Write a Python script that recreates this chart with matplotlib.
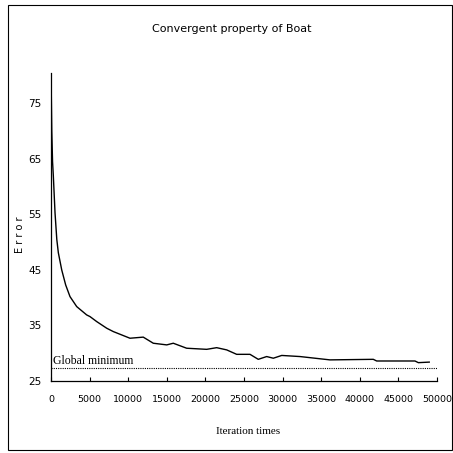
from matplotlib import pyplot as plt
from matplotlib.patches import Rectangle

# iteration / error
iters = [0, 100, 200, 300, 520, 750, 950, 1390, 1900, 2460, 3330, 4620, 5050,
         5920, 7220, 8070, 10230, 11950, 13250, 14990, 15840, 17570, 20170,
         21460, 22760, 24050, 25780, 26850, 27940, 28800, 29890, 32260,
         34840, 36140, 41750, 42190, 47150, 47590, 49000]
error = [80.5, 70.0, 64.5, 62.0, 55.3, 50.5, 48.1, 45.0, 42.3, 40.2, 38.4, 36.9,
         36.6, 35.7, 34.5, 33.9, 32.7, 32.9, 31.8, 31.5, 31.8, 30.9, 30.7,
         31.0, 30.6, 29.8, 29.8, 28.9, 29.4, 29.1, 29.6, 29.4,
         29.0, 28.8, 28.9, 28.6, 28.6, 28.3, 28.4]
global_min = 27.3
yticks = [25, 35, 45, 55, 65, 75]
xticks = list(range(0, 50001, 5000))

narrow = 'DejaVu Sans'

fig = plt.figure(figsize=(4.53, 4.53), dpi=100)
ax = fig.add_axes([0.1126, 0.159, 0.852, 0.68])

ax.plot(iters, error, color='black', lw=1.0)
ax.plot([0, 50000], [global_min, global_min], color='black', lw=0.8, ls=(0, (1, 1)))
ax.text(300, global_min + 0.3, 'Global minimum', family='Liberation Serif',
        fontsize=8.5, va='bottom', ha='left')

ax.set_xlim(0, 50000)
ax.set_ylim(25, 80.5)
ax.set_xticks(xticks)
ax.set_yticks(yticks)
ax.set_xticklabels([str(t) for t in xticks], family=narrow, fontsize=6.8)
ax.set_yticklabels([str(t) for t in yticks], family=narrow, fontsize=7.5)
ax.tick_params(axis='x', direction='in', length=3, width=0.8, pad=10)
ax.tick_params(axis='y', length=0, pad=7)
for s in ['top', 'right']:
    ax.spines[s].set_visible(False)
for s in ['left', 'bottom']:
    ax.spines[s].set_linewidth(0.9)

fig.text(0.512, 0.937, 'Convergent property of Boat', family=narrow,
         fontsize=8, ha='center', va='center')
ax.set_xlabel('Iteration times', family='Liberation Serif', fontsize=8)
ax.xaxis.set_label_coords(0.51, -0.15)
ax.set_ylabel('E r r o r', family='DejaVu Sans', fontsize=7)
ax.yaxis.set_label_coords(-0.068, 0.475)

fig.patches.append(Rectangle((0.018, 0.007), 0.98, 0.982, transform=fig.transFigure,
                             fill=False, edgecolor='black', lw=0.8))

plt.savefig('out.png', dpi=100)
